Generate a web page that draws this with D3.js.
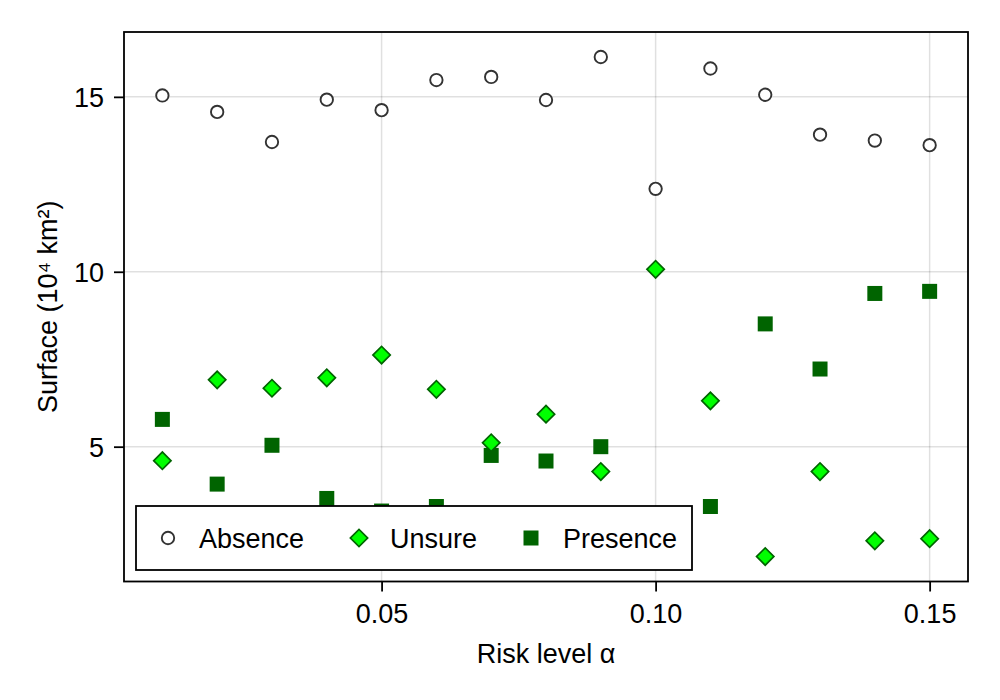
<!DOCTYPE html>
<html>
<head>
<meta charset="utf-8">
<script src="https://cdn.jsdelivr.net/npm/d3@7"></script>
<style>
  html, body { margin: 0; padding: 0; background: #fff; }
  svg { display: block; font-family: "Liberation Sans", Arial, Helvetica, sans-serif; }
</style>
</head>
<body>
<svg id="chart" width="1000" height="700"></svg>
<script>
const alphas   = [0.01, 0.02, 0.03, 0.04, 0.05, 0.06, 0.07, 0.08, 0.09, 0.10, 0.11, 0.12, 0.13, 0.14, 0.15];
const absence  = [15.04, 14.57, 13.71, 14.92, 14.62, 15.48, 15.57, 14.91, 16.14, 12.37, 15.81, 15.06, 13.92, 13.75, 13.62];
const unsure   = [4.60, 6.91, 6.67, 6.97, 7.62, 6.64, 5.11, 5.93, 4.29, 10.07, 6.31, 1.86, 4.29, 2.31, 2.37];
const presence = [5.78, 3.93, 5.04, 3.52, 3.16, 3.29, 4.75, 4.59, 5.00, 2.60, 3.29, 8.51, 7.22, 9.38, 9.44];
const xTicks = [0.05, 0.10, 0.15];
const yTicks = [5, 10, 15];
const xDomain = [0.003, 0.157];
const yDomain = [1.146, 16.854];
const seriesNames = ["Absence", "Unsure", "Presence"];

const svg = d3.select("#chart");
const L = 124, R = 968, T = 32, B = 581.5;
const FS = 27;

const x = d3.scaleLinear().domain(xDomain).range([L, R]);
const y = d3.scaleLinear().domain(yDomain).range([B, T]);

// grid
const grid = svg.append("g");
grid.selectAll("line.vx").data(xTicks).join("line")
  .attr("x1", d => x(d)).attr("x2", d => x(d)).attr("y1", T).attr("y2", B)
  .attr("stroke", "rgba(0,0,0,0.12)").attr("stroke-width", 1.5);
grid.selectAll("line.hy").data(yTicks).join("line")
  .attr("y1", d => y(d)).attr("y2", d => y(d)).attr("x1", L).attr("x2", R)
  .attr("stroke", "rgba(0,0,0,0.12)").attr("stroke-width", 1.5);

// axes
const xAxis = d3.axisBottom(x).tickValues(xTicks).tickFormat(d3.format(".2f")).tickSize(10).tickPadding(12);
const yAxis = d3.axisLeft(y).tickValues(yTicks).tickFormat(d3.format("d")).tickSize(10).tickPadding(10);
const gx = svg.append("g").attr("transform", `translate(0,${B})`).call(xAxis);
const gy = svg.append("g").attr("transform", `translate(${L},0)`).call(yAxis);
[gx, gy].forEach(g => {
  g.select(".domain").remove();
  g.selectAll(".tick line").attr("stroke", "#000").attr("stroke-width", 1.8);
  g.selectAll(".tick text").attr("fill", "#000").style("font-size", FS + "px")
    .style("font-family", '"Liberation Sans", Arial, sans-serif');
});
gy.selectAll(".tick text").attr("dy", "0.35em");

// axis labels
svg.append("text").attr("x", (L + R) / 2).attr("y", 663).attr("text-anchor", "middle")
  .style("font-size", FS + "px").text("Risk level α");
svg.append("text").attr("transform", `translate(57,${(T + B) / 2}) rotate(-90)`)
  .attr("text-anchor", "middle").style("font-size", FS + "px").text("Surface (10⁴ km²)");

// marks
const pts = svg.append("g");
const diamond = d3.symbol().type(d3.symbolSquare).size(150);
pts.selectAll("rect.pres").data(alphas).join("rect")
  .attr("x", (d) => x(d) - 7.5).attr("y", (d, i) => y(presence[i]) - 7.5)
  .attr("width", 15).attr("height", 15)
  .attr("fill", "#006400");
pts.selectAll("path.uns").data(alphas).join("path")
  .attr("d", diamond)
  .attr("transform", (d, i) => `translate(${x(d)},${y(unsure[i])}) rotate(45)`)
  .attr("fill", "#00ff00").attr("stroke", "#006400").attr("stroke-width", 1.7);
pts.selectAll("circle.abs").data(alphas).join("circle")
  .attr("cx", d => x(d)).attr("cy", (d, i) => y(absence[i])).attr("r", 6.2)
  .attr("fill", "#fff").attr("stroke", "#333").attr("stroke-width", 1.9);

// frame
svg.append("rect").attr("x", L).attr("y", T).attr("width", R - L).attr("height", B - T)
  .attr("fill", "none").attr("stroke", "#000").attr("stroke-width", 1.8);

// legend
const lg = svg.append("g");
lg.append("rect").attr("x", 136).attr("y", 506).attr("width", 556).attr("height", 64)
  .attr("fill", "#fff").attr("stroke", "#000").attr("stroke-width", 1.8);
const ly = 538;
const symX = [168, 359, 531];
const txtX = [199, 390, 563];
lg.append("circle").attr("cx", symX[0]).attr("cy", ly).attr("r", 6.2)
  .attr("fill", "#fff").attr("stroke", "#333").attr("stroke-width", 1.9);
lg.append("path").attr("d", diamond).attr("transform", `translate(${symX[1]},${ly}) rotate(45)`)
  .attr("fill", "#00ff00").attr("stroke", "#006400").attr("stroke-width", 1.7);
lg.append("rect").attr("x", symX[2] - 7.5).attr("y", ly - 7.5).attr("width", 15).attr("height", 15)
  .attr("fill", "#006400");
lg.selectAll("text").data(seriesNames).join("text")
  .attr("x", (d, i) => txtX[i]).attr("y", ly + 10)
  .style("font-size", FS + "px").text(d => d);
</script>
</body>
</html>
